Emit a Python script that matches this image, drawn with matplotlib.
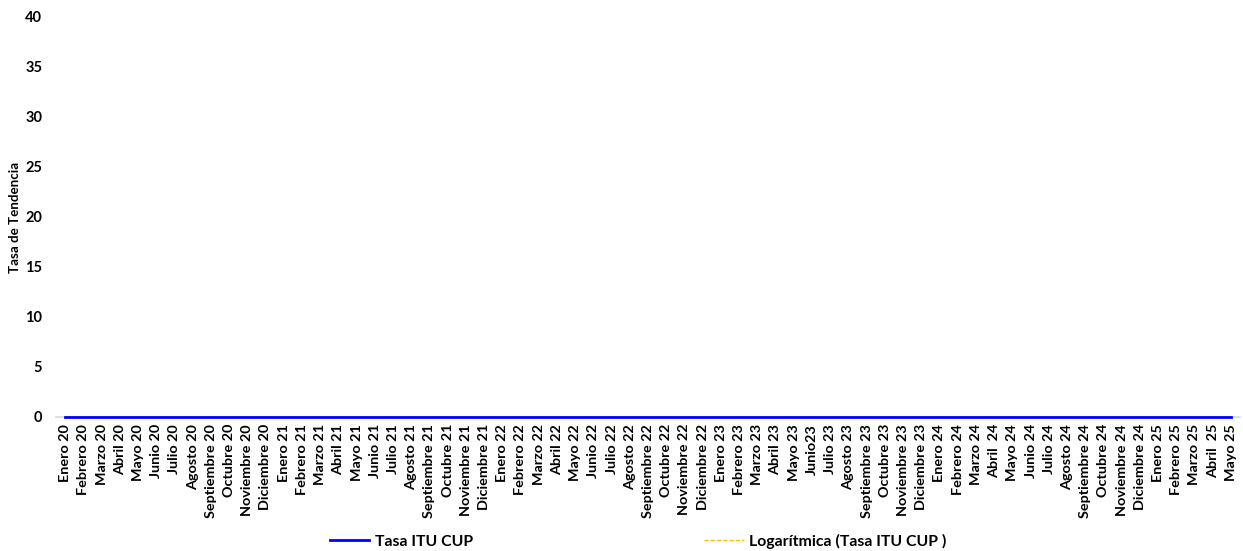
import matplotlib
matplotlib.use("Agg")
import matplotlib.pyplot as plt

# Month labels, 2020-01 through 2025-05
meses = ["Enero", "Febrero", "Marzo", "Abril", "Mayo", "Junio", "Julio",
         "Agosto", "Septiembre", "Octubre", "Noviembre", "Diciembre"]
etiquetas = []
for anio in ["20", "21", "22", "23", "24"]:
    for m in meses:
        etiquetas.append(f"{m} {anio}")
etiquetas += ["Enero 25", "Febrero 25", "Marzo 25", "Abril  25", "Mayo 25"]
etiquetas[etiquetas.index("Junio 23")] = "Junio23"
etiquetas[etiquetas.index("Abril 24")] = "Abril  24"

# Monthly rate series and its logarithmic trend
tasa_itu_cup = [0] * 65
tendencia_log = [0] * 65

fam = ["Lato", "DejaVu Sans"]
plt.rcParams["font.family"] = fam
plt.rcParams["font.weight"] = "bold"

W, H = 1243, 551
fig = plt.figure(figsize=(W / 100, H / 100), dpi=100)
ax = fig.add_axes([56 / W, (H - 417) / H, (1240 - 56) / W, 400 / H])

x = list(range(len(etiquetas)))
ax.axhline(0, color="#d9d9d9", lw=1.2, zorder=1, clip_on=False)
l_log, = ax.plot(x, tendencia_log, color="#FFC000", lw=1.0, ls=(0, (3, 1.5)),
                 zorder=2, clip_on=False)
l_tasa, = ax.plot(x, tasa_itu_cup, color="#0000FF", lw=2.0, zorder=3, clip_on=False)

ax.set_xlim(-0.5, len(etiquetas) - 0.5)
ax.set_ylim(0, 40)
ax.set_yticks(range(0, 41, 5))
ax.set_xticks(x)
ax.set_xticklabels(etiquetas, rotation=90, fontsize=10.4, fontweight="bold")
ax.tick_params(axis="y", labelsize=10.5, length=0, pad=10)
ax.tick_params(axis="x", length=0, pad=5)
for lab in ax.get_yticklabels():
    lab.set_fontweight("bold")
for s in ax.spines.values():
    s.set_visible(False)

ax.set_ylabel("Tasa de Tendencia", fontsize=9.6, fontweight="bold")
ax.yaxis.set_label_coords(-35 / (1240 - 56), 0.5)

fig.legend([l_tasa, l_log], ["Tasa ITU CUP", "Logarítmica (Tasa ITU CUP )"],
           loc="center", bbox_to_anchor=(638 / W, 1 - 541 / H),
           ncol=2, frameon=False, columnspacing=14.6, handlelength=2.5,
           handletextpad=0.35, borderaxespad=0, borderpad=0,
           prop={"family": fam, "weight": "bold", "size": 11.4})

fig.savefig("out.png", dpi=100)
